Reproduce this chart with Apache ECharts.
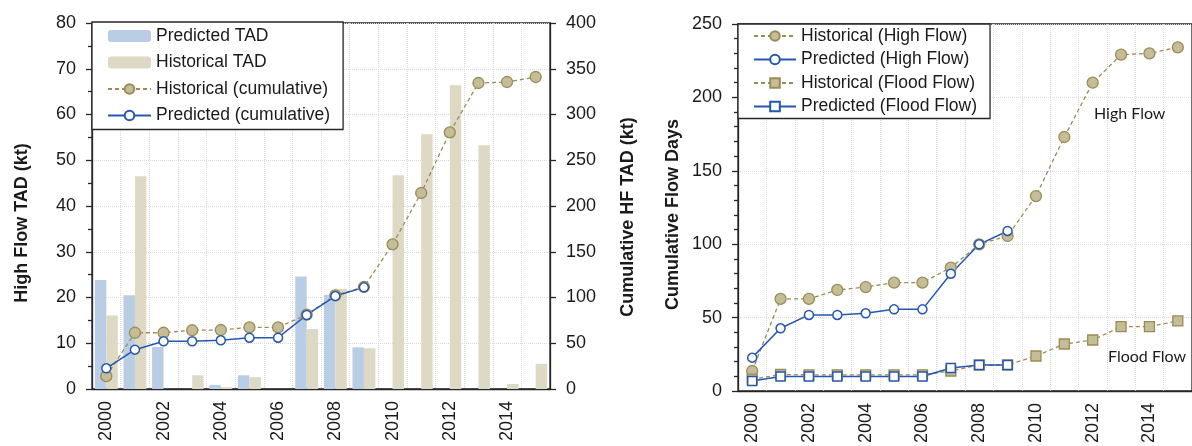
<!DOCTYPE html>
<html>
<head>
<meta charset="utf-8">
<script src="https://cdn.jsdelivr.net/npm/echarts@6/dist/echarts.min.js"></script>
<style>
  html, body { margin: 0; padding: 0; background: #fff; }
  #chart { width: 1192px; height: 446px; }
</style>
</head>
<body>
<div id="chart"></div>
<script>
const years = [
  '2000', '2001', '2002', '2003', '2004', '2005', '2006', '2007',
  '2008', '2009', '2010', '2011', '2012', '2013', '2014', '2015',
]

// left panel: annual high flow TAD (kt)
const predictedTAD = [23.8, 20.5, 9.2, null, 0.9, 3.0, null, 24.6, 20.6, 9.1, null, null, null, null, null, null]
const historicalTAD = [16.1, 46.5, null, 3.0, 0.4, 2.6, null, 13.1, 21.9, 8.9, 46.7, 55.7, 66.4, 53.3, 1.1, 5.5]

// left panel: cumulative HF TAD (kt)
const historicalCum = [14, 61.5, 61.5, 64.2, 64.5, 67.4, 67.4, 81.2, 102.4, 111.5, 158.1, 214.2, 280.5, 334.4, 335.5, 341]
const predictedCum = [22.6, 43, 52.1, 52.1, 53.2, 56.1, 56.1, 80.9, 101.6, 111.1, null, null, null, null, null, null]

// right panel: cumulative flow days
const histHighFlow = [13.6, 62.7, 62.7, 68.8, 70.8, 73.8, 73.8, 84, 99.9, 105.6, 132.8, 173, 210, 229.1, 230, 234.1]
const predHighFlow = [22.7, 42.7, 51.8, 51.8, 52.9, 55.6, 55.6, 79.9, 99.9, 109, null, null, null, null, null, null]
const histFloodFlow = [8, 11.2, 11, 11, 11, 11, 11, 13.6, 17.7, 17.7, 23.8, 32, 34.7, 43.8, 43.8, 47.7]
const predFloodFlow = [6.8, 9.8, 9.8, 9.8, 9.8, 9.8, 9.8, 15.7, 17.7, 17.7, null, null, null, null, null, null]

const FONT = 'Liberation Sans'
const INK = '#1a1a1a'
const AXIS = '#262626'
const GRID = '#d9d9d9'
const BLUE_BAR = '#b9cde5'
const TAN_BAR = '#ddd9c4'
const OLIVE = '#9a8c56'
const TAN_MARK = '#c4bd97'
const BLUE = '#2457b0'

function catAxis(gridIndex) {
  return {
    type: 'category',
    gridIndex: gridIndex,
    data: years,
    axisLine: { lineStyle: { color: AXIS, width: 1.3 } },
    axisTick: { interval: 0, length: 6, lineStyle: { color: AXIS, width: 1.3 } },
    axisLabel: {
      interval: 1, rotate: 90, margin: 12,
      fontFamily: FONT, fontSize: 18, color: INK,
    },
    splitLine: { show: true, interval: 0, lineStyle: { color: GRID, type: 'dotted' } },
  }
}

// shift: push the rotated axis name downward by half this many pixels
function nameStyle(shift) {
  return { fontFamily: FONT, fontSize: 18, fontWeight: 'bold', color: INK, padding: [0, shift, 0, 0] }
}

function valAxis(opt) {
  return Object.assign({
    type: 'value',
    nameLocation: 'middle',
    axisLine: { show: true, lineStyle: { color: AXIS, width: 1.3 } },
    axisTick: { show: true, length: 6, lineStyle: { color: AXIS, width: 1.3 } },
    axisLabel: { fontFamily: FONT, fontSize: 18, color: INK, margin: 16 },
    splitLine: { show: true, lineStyle: { color: GRID, type: 'dotted' } },
  }, opt)
}

const legendText = { fontFamily: FONT, fontSize: 17.5, color: INK }

echarts.init(document.getElementById('chart')).setOption({
  animation: false,
  backgroundColor: '#fff',
  grid: [
    { left: 92, top: 23, width: 458, height: 366, show: true, borderColor: AXIS, borderWidth: 1.3 },
    { left: 738, top: 24, width: 458, height: 367, show: true, borderColor: AXIS, borderWidth: 1.3 },
  ],
  legend: [
    {
      left: 92, top: 22,
      orient: 'vertical',
      data: ['Predicted TAD', 'Historical TAD', 'Historical (cumulative)', 'Predicted (cumulative)'],
      itemWidth: 43, itemHeight: 12, itemGap: 8.5,
      padding: [5, 13, 5, 15],
      backgroundColor: '#fff', borderColor: AXIS, borderWidth: 1.3,
      textStyle: legendText,
    },
    {
      left: 738, top: 24,
      orient: 'vertical',
      data: ['Historical (High Flow)', 'Predicted (High Flow)', 'Historical (Flood Flow)', 'Predicted (Flood Flow)'],
      itemWidth: 42, itemHeight: 12, itemGap: 5.5,
      padding: [3, 13, 3, 15],
      backgroundColor: '#fff', borderColor: AXIS, borderWidth: 1.3,
      textStyle: legendText,
    },
  ],
  xAxis: [catAxis(0), catAxis(1)],
  yAxis: [
    valAxis({
      gridIndex: 0, min: 0, max: 80, interval: 10,
      name: 'High Flow TAD (kt)', nameGap: 61, nameTextStyle: nameStyle(34),
      minorTick: { show: true, splitNumber: 2, length: 4, lineStyle: { color: AXIS, width: 1.3 } },
    }),
    valAxis({
      gridIndex: 0, min: 0, max: 400, interval: 50, position: 'right',
      name: 'Cumulative HF TAD (kt)', nameGap: 69, nameTextStyle: nameStyle(22),
      splitLine: { show: false },
    }),
    valAxis({
      gridIndex: 1, min: 0, max: 250, interval: 50,
      name: 'Cumulative Flow Days', nameGap: 56, nameTextStyle: nameStyle(14),
      minorTick: { show: true, splitNumber: 5, length: 4, lineStyle: { color: AXIS, width: 1.3 } },
    }),
  ],
  series: [
    {
      name: 'Predicted TAD', type: 'bar', xAxisIndex: 0, yAxisIndex: 0,
      data: predictedTAD, barGap: '0%', barCategoryGap: '20%',
      itemStyle: { color: BLUE_BAR },
    },
    {
      name: 'Historical TAD', type: 'bar', xAxisIndex: 0, yAxisIndex: 0,
      data: historicalTAD, barGap: '0%', barCategoryGap: '20%',
      itemStyle: { color: TAN_BAR },
    },
    {
      name: 'Historical (cumulative)', type: 'line', xAxisIndex: 0, yAxisIndex: 1,
      data: historicalCum, symbol: 'circle', symbolSize: 11,
      lineStyle: { color: OLIVE, width: 1.3, type: [4, 3] },
      itemStyle: { color: TAN_MARK, borderColor: OLIVE, borderWidth: 1.3 },
    },
    {
      name: 'Predicted (cumulative)', type: 'line', xAxisIndex: 0, yAxisIndex: 1,
      data: predictedCum, symbol: 'circle', symbolSize: 9,
      lineStyle: { color: BLUE, width: 1.5 },
      itemStyle: { color: '#fff', borderColor: BLUE, borderWidth: 1.5 },
    },
    {
      name: 'Historical (High Flow)', type: 'line', xAxisIndex: 1, yAxisIndex: 2,
      data: histHighFlow, symbol: 'circle', symbolSize: 11,
      lineStyle: { color: OLIVE, width: 1.3, type: [4, 3] },
      itemStyle: { color: TAN_MARK, borderColor: OLIVE, borderWidth: 1.3 },
      markPoint: {
        symbol: 'circle', symbolSize: 0,
        label: { show: true, formatter: 'High Flow', fontFamily: 'Lato', fontSize: 16, color: INK, offset: [37, 0] },
        data: [{ coord: ['2012', 189] }],
      },
    },
    {
      name: 'Predicted (High Flow)', type: 'line', xAxisIndex: 1, yAxisIndex: 2,
      data: predHighFlow, symbol: 'circle', symbolSize: 9,
      lineStyle: { color: BLUE, width: 1.5 },
      itemStyle: { color: '#fff', borderColor: BLUE, borderWidth: 1.5 },
    },
    {
      name: 'Historical (Flood Flow)', type: 'line', xAxisIndex: 1, yAxisIndex: 2,
      data: histFloodFlow, symbol: 'rect', symbolSize: 10,
      lineStyle: { color: OLIVE, width: 1.3, type: [4, 3] },
      itemStyle: { color: TAN_MARK, borderColor: OLIVE, borderWidth: 1.3 },
      markPoint: {
        symbol: 'circle', symbolSize: 0,
        label: { show: true, formatter: 'Flood Flow', fontFamily: 'Lato', fontSize: 16, color: INK, offset: [26, 0] },
        data: [{ coord: ['2013', 23.2] }],
      },
    },
    {
      name: 'Predicted (Flood Flow)', type: 'line', xAxisIndex: 1, yAxisIndex: 2,
      data: predFloodFlow, symbol: 'rect', symbolSize: 9,
      lineStyle: { color: BLUE, width: 1.5 },
      itemStyle: { color: '#fff', borderColor: BLUE, borderWidth: 1.5 },
    },
  ],
})
</script>
</body>
</html>
